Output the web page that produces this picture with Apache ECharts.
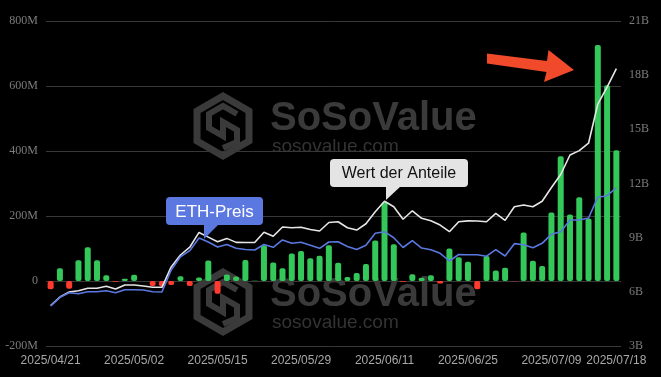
<!DOCTYPE html>
<html>
<head>
<meta charset="utf-8">
<style>
  html, body { margin: 0; padding: 0; background: #000; }
  #chart { width: 661px; height: 377px; }
</style>
<script src="https://cdn.jsdelivr.net/npm/echarts@6/dist/echarts.min.js"></script>
</head>
<body>
<div id="chart"></div>
<script>
// trading days shown on the x axis
const dates = [
  '2025/04/21', '2025/04/22', '2025/04/23', '2025/04/24', '2025/04/25', '2025/04/28', '2025/04/29', '2025/04/30',
  '2025/05/01', '2025/05/02', '2025/05/05', '2025/05/06', '2025/05/07', '2025/05/08', '2025/05/09',
  '2025/05/12', '2025/05/13', '2025/05/14', '2025/05/15', '2025/05/16', '2025/05/19', '2025/05/20',
  '2025/05/21', '2025/05/22', '2025/05/23', '2025/05/27', '2025/05/28', '2025/05/29', '2025/05/30',
  '2025/06/02', '2025/06/03', '2025/06/04', '2025/06/05', '2025/06/06', '2025/06/09', '2025/06/10',
  '2025/06/11', '2025/06/12', '2025/06/13', '2025/06/16', '2025/06/17', '2025/06/18', '2025/06/20',
  '2025/06/23', '2025/06/24', '2025/06/25', '2025/06/26', '2025/06/27', '2025/06/30', '2025/07/01',
  '2025/07/02', '2025/07/03', '2025/07/07', '2025/07/08', '2025/07/09', '2025/07/10', '2025/07/11',
  '2025/07/14', '2025/07/15', '2025/07/16', '2025/07/17', '2025/07/18'
]

// daily net inflow, million USD
const netInflow = [
  -25, 39, -24, 64, 104, 64, 18, -2, 7, 19,
  0, -15, -16, -12, 15, -15, 11, 63, -39, 20,
  14, 65, 1, 110, 57, 39, 85, 92, 70, 78,
  110, 56, 12, 25, 52, 125, 242, 113, -2, 21,
  10, 18, -8, 100, 73, 59, -25, 77, 32, 41,
  -1, 149, 62, 46, 211, 384, 205, 258, 192, 726,
  602, 402
]

// total value of holdings, billion USD
const shareValue = [
  5.24, 5.71, 5.99, 6.06, 6.20, 6.20, 6.31, 6.16, 6.38, 6.38,
  6.32, 6.25, 6.25, 7.38, 8.04, 8.47, 9.29, 9.03, 8.77, 8.96,
  8.74, 8.73, 8.73, 9.30, 9.08, 9.59, 9.55, 9.58, 9.45, 9.37,
  9.84, 9.88, 9.55, 9.42, 9.77, 10.44, 11.02, 10.71, 10.02, 10.49,
  10.07, 9.94, 9.70, 9.33, 9.88, 9.93, 9.92, 9.88, 10.35, 9.96,
  10.71, 10.81, 10.71, 11.02, 11.78, 12.50, 13.58, 13.82, 14.23, 16.40,
  17.34, 18.36
]

// ETH price, USD
const ethPrice = [
  1570, 1716, 1793, 1777, 1810, 1810, 1827, 1793, 1844, 1844,
  1839, 1810, 1805, 2174, 2397, 2498, 2711, 2644, 2560, 2602,
  2538, 2518, 2510, 2602, 2555, 2678, 2622, 2639, 2589, 2538,
  2644, 2649, 2569, 2518, 2589, 2790, 2817, 2715, 2552, 2666,
  2543, 2515, 2455, 2325, 2434, 2431, 2431, 2406, 2515, 2409,
  2616, 2599, 2548, 2622, 2775, 2817, 3013, 3013, 3047, 3396,
  3421, 3554
]

const leftTicks = { min: -200, max: 800, interval: 200 }
const rightTicks = { min: 3, max: 21, interval: 3 }

const green = '#34c759'
const red = '#ff3b30'
const blue = '#5b78e0'
const markColor = '#3a3a3a'

function watermark(top) {
  const cx = 223
  const cy = top + 31
  const r = 30
  const hex = []
  for (let k = 0; k < 6; k++) {
    const a = Math.PI / 2 + k * Math.PI / 3
    hex.push([cx + r * Math.cos(a), cy - r * Math.sin(a)])
  }
  return [
    {
      type: 'polygon', z: 0, silent: true,
      shape: { points: hex },
      style: { fill: 'none', stroke: markColor, lineWidth: 7 }
    },
    {
      type: 'polyline', z: 0, silent: true,
      shape: { points: [[cx + 14, cy - 12], [cx, cy - 20], [cx - 14, cy - 12], [cx - 14, cy + 2], [cx, cy + 10], [cx, cy - 4], [cx + 14, cy + 4], [cx + 14, cy + 16], [cx, cy + 22]] },
      style: { fill: 'none', stroke: markColor, lineWidth: 6 }
    },
    {
      type: 'text', z: 0, silent: true,
      style: { text: 'SoSoValue', x: 270, y: top + 24, font: 'bold 40px "Liberation Sans"', fill: markColor, textVerticalAlign: 'middle' }
    },
    {
      type: 'text', z: 0, silent: true,
      style: { text: 'sosovalue.com', x: 272, y: top + 52, font: '19px "Liberation Sans"', fill: '#333', textVerticalAlign: 'middle' }
    }
  ]
}

function badge(x, y, w, h, tip, bg, fg, text, fontSize) {
  return [
    {
      type: 'rect', z: 10,
      shape: { x: x, y: y, width: w, height: h, r: 4 },
      style: { fill: bg }
    },
    {
      type: 'polygon', z: 10,
      shape: { points: [[tip[0], y + h - 1], [tip[0] + 15, y + h - 1], tip] },
      style: { fill: bg }
    },
    {
      type: 'text', z: 11,
      style: { text: text, x: x + w / 2, y: y + h / 2 + 1, font: fontSize + 'px "Liberation Sans"', fill: fg, textAlign: 'center', textVerticalAlign: 'middle' }
    }
  ]
}

const chart = echarts.init(document.getElementById('chart'), null, { renderer: 'canvas' })

chart.setOption({
  backgroundColor: '#000',
  animation: false,
  grid: { left: 46, right: 40, top: 21, bottom: 31 },
  xAxis: {
    type: 'category',
    data: dates,
    boundaryGap: true,
    axisLine: { show: false },
    axisTick: { show: false },
    axisLabel: {
      color: '#a8a8a8',
      fontFamily: 'Liberation Sans',
      fontSize: 12,
      margin: 9,
      interval: (i) => i % 9 === 0 || i === dates.length - 1
    }
  },
  yAxis: [
    {
      type: 'value',
      min: leftTicks.min,
      max: leftTicks.max,
      interval: leftTicks.interval,
      axisLine: { show: false },
      axisTick: { show: false },
      splitLine: { lineStyle: { color: '#383838', width: 1 } },
      axisLabel: {
        color: '#7c7c7c',
        fontFamily: 'Liberation Serif',
        fontSize: 12,
        margin: 8,
        formatter: (v) => (v === 0 ? '0' : v + 'M')
      }
    },
    {
      type: 'value',
      position: 'right',
      min: rightTicks.min,
      max: rightTicks.max,
      interval: rightTicks.interval,
      axisLine: { show: false },
      axisTick: { show: false },
      splitLine: { show: false },
      axisLabel: {
        color: '#7c7c7c',
        fontFamily: 'Liberation Serif',
        fontSize: 12,
        margin: 8,
        formatter: (v) => v + 'B'
      }
    },
    {
      // ETH price scale, not shown
      type: 'value',
      show: false,
      min: 899,
      max: 6352
    }
  ],
  series: [
    {
      name: 'Netto-Zufluss',
      type: 'bar',
      yAxisIndex: 0,
      barWidth: 6,
      data: netInflow,
      itemStyle: {
        borderRadius: 2,
        color: (p) => (p.value >= 0 ? green : red)
      }
    },
    {
      name: 'Wert der Anteile',
      type: 'line',
      yAxisIndex: 1,
      data: shareValue,
      symbol: 'none',
      lineStyle: { color: '#e6e6e6', width: 1.6 }
    },
    {
      name: 'ETH-Preis',
      type: 'line',
      yAxisIndex: 2,
      data: ethPrice,
      symbol: 'none',
      lineStyle: { color: blue, width: 1.6 }
    }
  ],
  graphic: [
    ...watermark(95),
    ...watermark(271),
    ...badge(166, 197, 97, 28, [204, 239], blue, '#fff', 'ETH-Preis', 17),
    ...badge(330, 159, 138, 28, [386, 200], '#e4e4e4', '#111', 'Wert der Anteile', 16),
    {
      type: 'polygon', z: 10,
      shape: { points: [[487, 53.5], [547, 61], [548.5, 50], [574, 70], [544, 82], [546.5, 72], [487, 63.5]] },
      style: { fill: '#f04a2a' }
    }
  ]
})
</script>
</body>
</html>
